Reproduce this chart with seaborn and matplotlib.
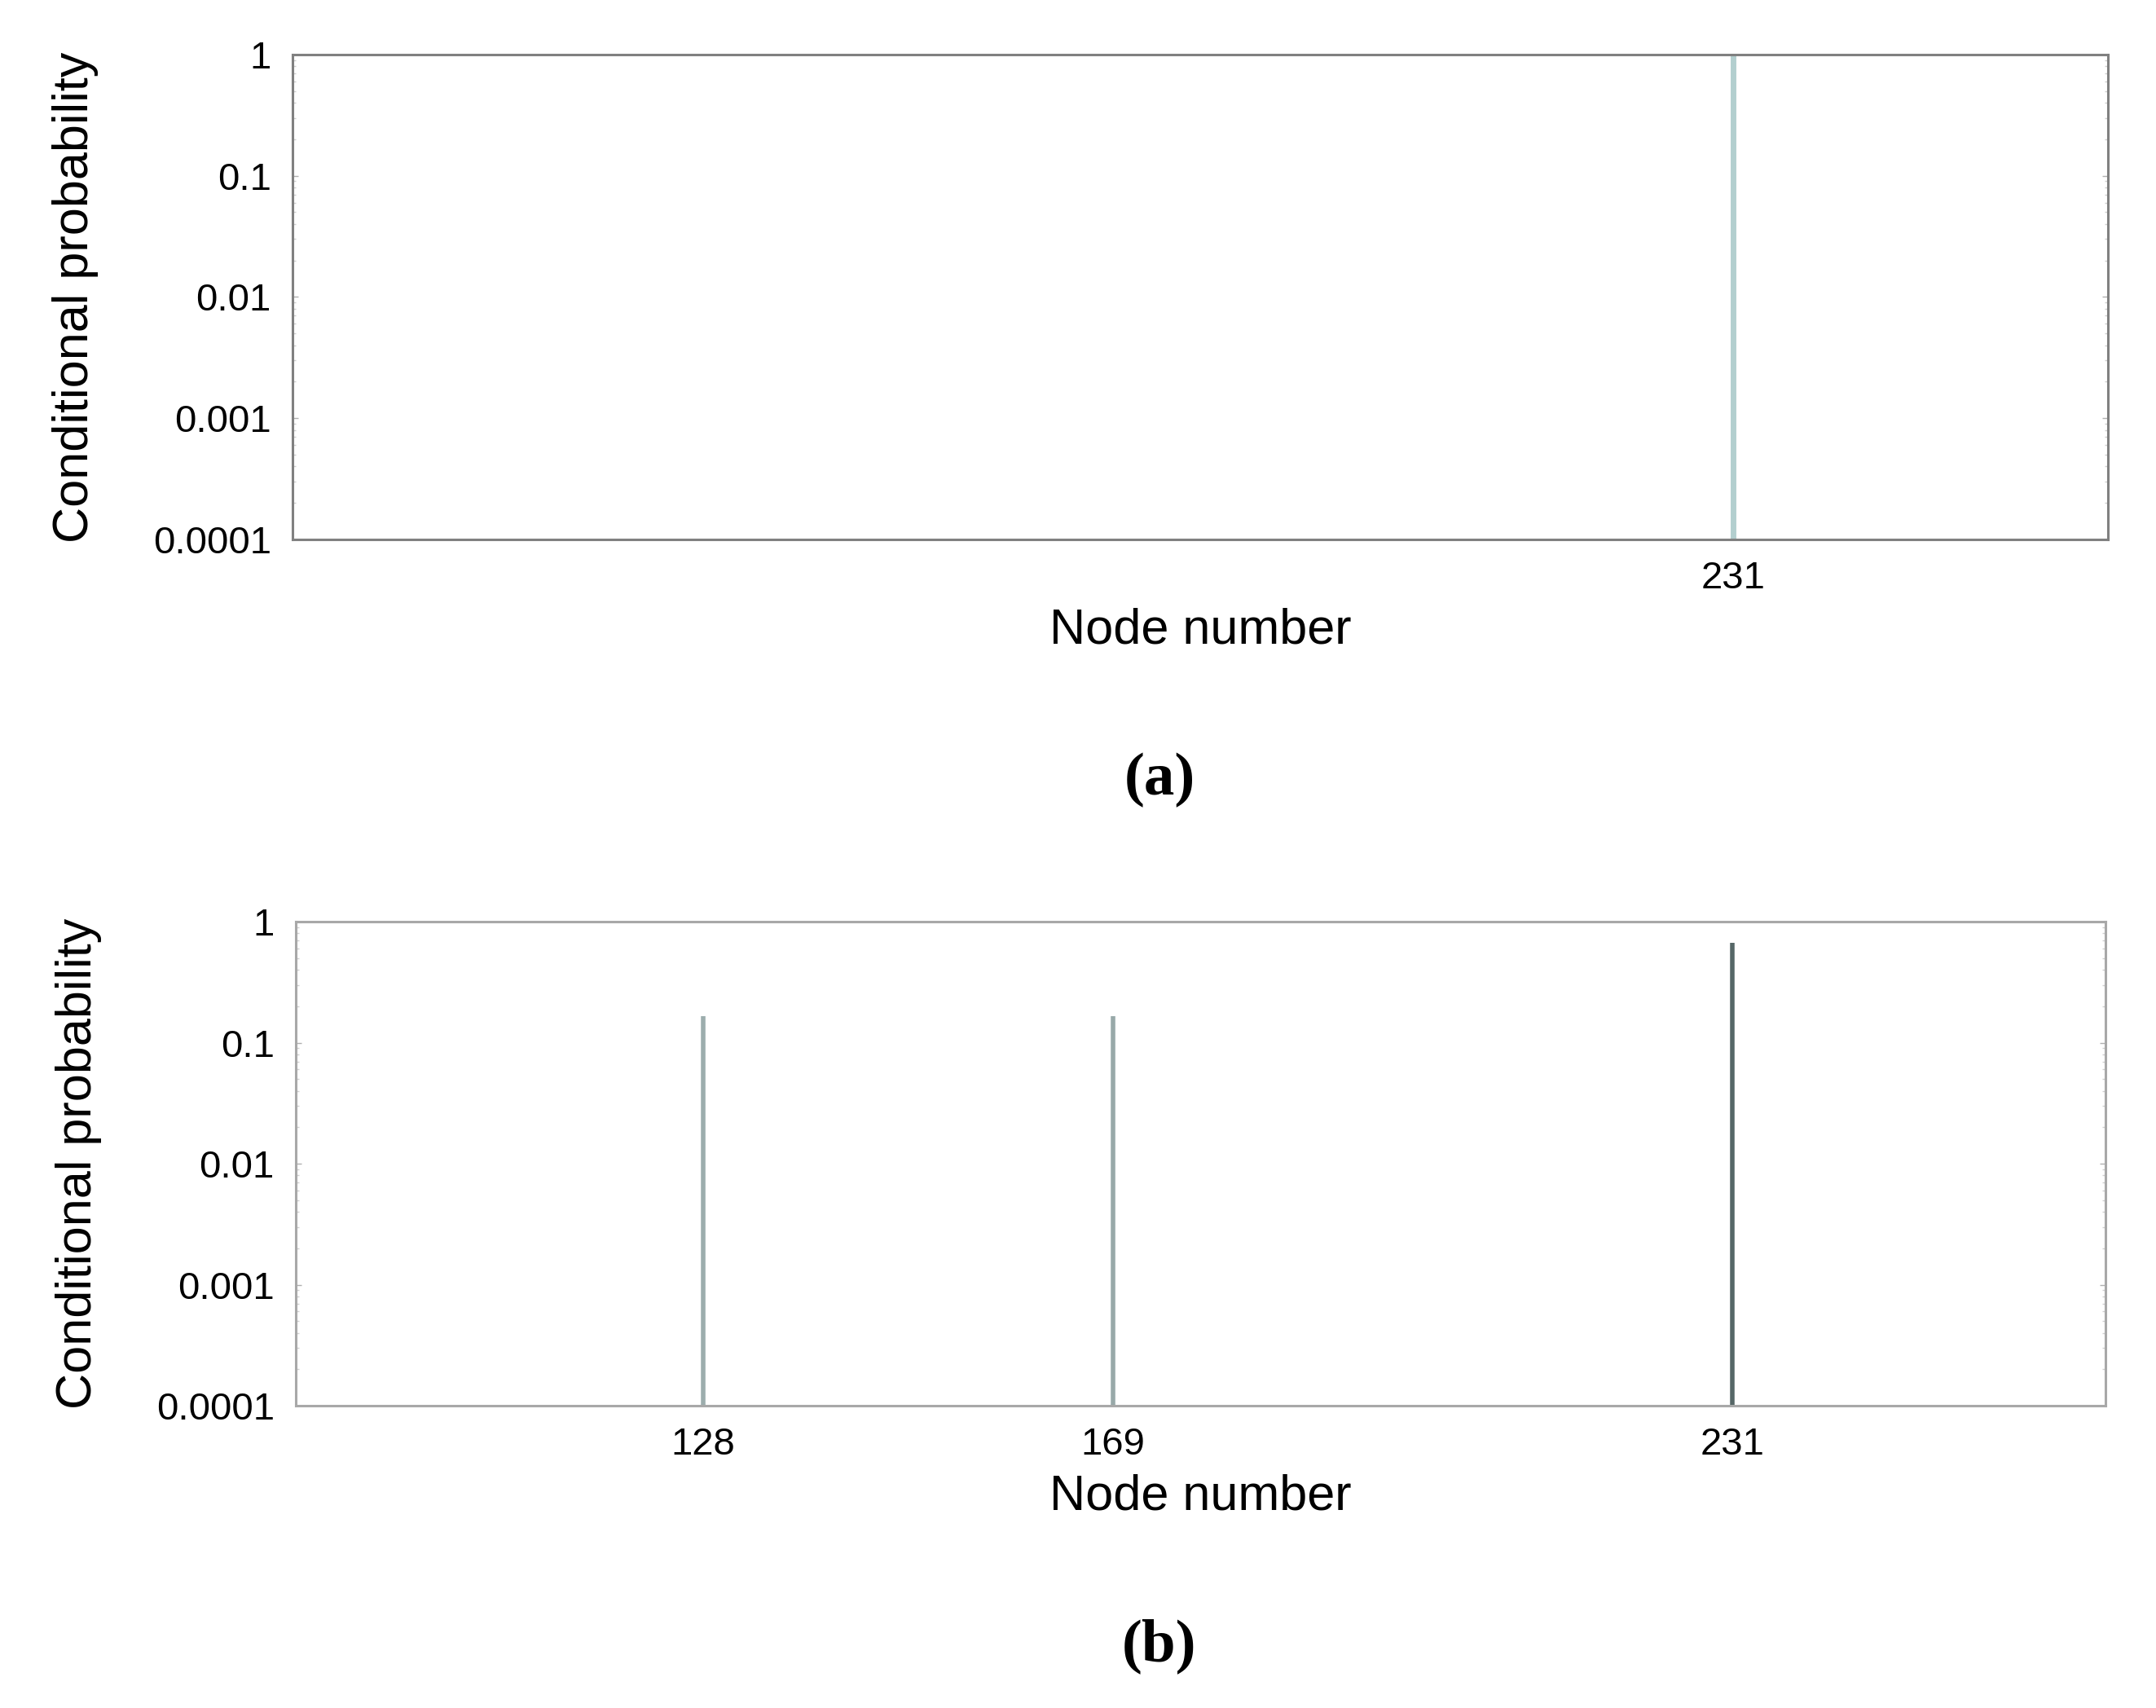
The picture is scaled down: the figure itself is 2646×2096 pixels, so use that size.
import pandas as pd
import matplotlib.pyplot as plt
import numpy as np
import seaborn as sns

# Data: conditional probability per node, panel (a) and panel (b)
nodes_a = [231]
prob_a = [1.0]

nodes_b = [128, 169, 231]
prob_b = [1 / 6, 1 / 6, 2 / 3]

colors_a = ["#b3cfcf"]
colors_b = ["#9cadad", "#98a9a9", "#566767"]

# Style
sns.set_theme(style="white", rc={
    "axes.facecolor": "white",
    "figure.facecolor": "white",
    "text.color": "black",
    "axes.labelcolor": "black",
    "xtick.color": "black",
    "ytick.color": "black",
})
plt.rcParams['font.family'] = ['Liberation Sans', 'DejaVu Sans']

fig = plt.figure(figsize=(26.46, 20.96), dpi=100)
ax_a = fig.add_axes([0.1357, 0.6842, 0.842, 0.2839])
ax_b = fig.add_axes([0.1372, 0.1770, 0.8394, 0.2834])

panels = [
    (ax_a, nodes_a, prob_a, colors_a, "#808080", 5, "(a)", 957),
    (ax_b, nodes_b, prob_b, colors_b, "#a8a8a8", 4, "(b)", 2020),
]

for ax, nodes, probs, cols, edge, lw, tag, tag_y in panels:
    df = pd.DataFrame({"node": nodes, "prob": probs})
    ax.set_yscale("log")
    ax.set_ylim(1e-4, 1)
    ax.set_xlim(87.2, 268.4)
    ax.vlines(df["node"], 1e-4, df["prob"], colors=cols, linewidth=lw)

    ax.set_yticks([1e-4, 1e-3, 1e-2, 1e-1, 1])
    ax.set_yticklabels(["0.0001", "0.001", "0.01", "0.1", "1"])
    ax.set_xticks(df["node"])
    ax.set_xticklabels([str(n) for n in nodes])

    ax.tick_params(axis="y", which="major", direction="in", length=5, width=1,
                   color="#b0b0b0", labelcolor="black", labelsize=34, pad=19,
                   right=True, left=True)
    ax.tick_params(axis="y", which="minor", direction="in", length=3, width=1,
                   color="#d0d0d0", right=True, left=True)
    ax.tick_params(axis="x", length=0, labelsize=34, labelcolor="black", pad=19)

    for sp in ax.spines.values():
        sp.set_color(edge)
        sp.set_linewidth(2.2)

    ax.set_ylabel("Conditional probability", fontsize=44, color="black")
    ax.set_xlabel("Node number", fontsize=44, color="black")
    ax.yaxis.set_label_coords(-0.107, 0.5)
    ax.xaxis.set_label_coords(0.5, -0.14)
    ax.xaxis.label.set_va("top")

    fig.text(1423 / 2646, 1 - tag_y / 2096, tag, ha="center", va="center",
             fontsize=54, fontweight="bold", color="black",
             family=["Liberation Serif", "DejaVu Serif"])

plt.savefig("out.png", dpi=100)
